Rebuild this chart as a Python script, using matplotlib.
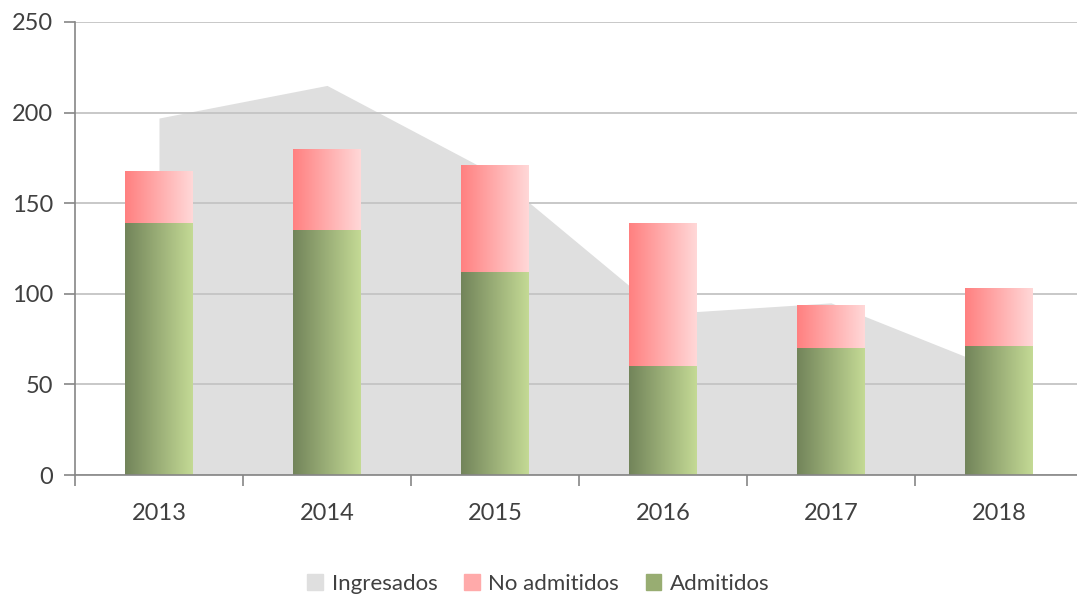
import matplotlib
matplotlib.use("Agg")
import matplotlib.pyplot as plt
import numpy as np
from matplotlib.colors import LinearSegmentedColormap
from matplotlib.patches import Patch

years = ["2013", "2014", "2015", "2016", "2017", "2018"]
ingresados = [197, 215, 166, 89, 95, 58]
admitidos = [139, 135, 112, 60, 70, 71]
no_admitidos = [29, 45, 59, 79, 24, 32]
yticks = [0, 50, 100, 150, 200, 250]

plt.rcParams['font.family'] = ['Lato', 'DejaVu Sans']
txt = '#404040'

fig = plt.figure(figsize=(10.77, 5.97), dpi=100)
ax = fig.add_axes([75/1077, (597-475)/597, 1008/1077, 453/597])

x = np.arange(len(years))
ax.set_xlim(-0.5, len(years) - 0.5)
ax.set_ylim(0, 250)

ax.fill_between(x, ingresados, 0, color='#DFDFDF', lw=0, zorder=0.2)

green = LinearSegmentedColormap.from_list('g', ['#72845A', '#C4DA95'])
pink = LinearSegmentedColormap.from_list('p', ['#FF8080', '#FFD8D8'])
grad = np.linspace(0, 1, 256).reshape(1, -1)

w = 0.4
b1 = ax.bar(x, admitidos, width=w, color='none', lw=0, zorder=2)
b2 = ax.bar(x, no_admitidos, bottom=admitidos, width=w, color='none', lw=0, zorder=2)
for bars, cmap in ((b1, green), (b2, pink)):
    for p in bars:
        x0, y0 = p.get_x(), p.get_y()
        im = ax.imshow(grad, cmap=cmap, aspect='auto', interpolation='bilinear',
                       extent=(x0, x0 + p.get_width(), y0, y0 + p.get_height()),
                       zorder=2)
        im.set_clip_path(p)
ax.set_xlim(-0.5, len(years) - 0.5)
ax.set_ylim(0, 250)

ax.set_axisbelow(True)
ax.set_yticks(yticks)
ax.yaxis.grid(True, color='#C4C4C4', lw=1.3)
ax.set_xticks(x)
ax.set_xticklabels(years)
ax.set_xticks(np.arange(len(years) + 1) - 0.5, minor=True)
ax.tick_params(axis='x', which='major', length=0, pad=20, labelsize=17, labelcolor=txt)
ax.tick_params(axis='x', which='minor', length=8, width=1.2, color='#868686', direction='out')
ax.tick_params(axis='y', length=8, width=1.2, color='#868686', pad=8, labelsize=17, labelcolor=txt)

for s in ('top', 'right'):
    ax.spines[s].set_visible(False)
for s in ('left', 'bottom'):
    ax.spines[s].set_color('#868686')
    ax.spines[s].set_linewidth(1.2)

handles = [Patch(color='#DFDFDF', label='Ingresados'),
           Patch(color='#FFAAAA', label='No admitidos'),
           Patch(color='#98AD72', label='Admitidos')]
fig.legend(handles=handles, loc='center', bbox_to_anchor=(0.5, 1 - 584/597), ncol=3,
           frameon=False, fontsize=16, labelcolor=txt, handlelength=0.7, handleheight=0.7,
           handletextpad=0.4, columnspacing=1.2)

fig.savefig('out.png', dpi=100)
